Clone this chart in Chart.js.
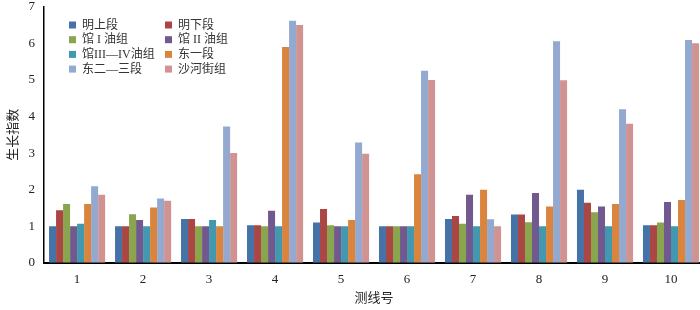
<!DOCTYPE html>
<html>
<head>
<meta charset="utf-8">
<script src="https://cdn.jsdelivr.net/npm/chart.js@4"></script>
<style>
  html, body { margin: 0; padding: 0; overflow: hidden; background: #fff; }
  #wrap { width: 706px; height: 312px; margin-top: -6px; }
</style>
</head>
<body>
<div id="wrap"><canvas id="growthChart" width="706" height="312"></canvas></div>
<script>
// 测线号
var categories = ["1", "2", "3", "4", "5", "6", "7", "8", "9", "10"];
var yTicks = [0, 1, 2, 3, 4, 5, 6, 7];

var mingShang  = [1.00, 1.00, 1.20, 1.03, 1.10, 1.00, 1.20, 1.32, 2.00, 1.03];
var mingXia    = [1.44, 1.00, 1.20, 1.03, 1.47, 1.00, 1.28, 1.32, 1.64, 1.03];
var guan1      = [1.61, 1.33, 1.00, 1.00, 1.03, 1.00, 1.07, 1.11, 1.38, 1.10];
var guan2      = [1.00, 1.17, 1.00, 1.42, 1.00, 1.00, 1.86, 1.91, 1.54, 1.66];
var guan34     = [1.07, 1.00, 1.17, 1.00, 1.00, 1.00, 1.00, 1.00, 1.00, 1.00];
var dong1      = [1.61, 1.51, 1.00, 5.90, 1.17, 2.42, 2.00, 1.54, 1.61, 1.72];
var dong23     = [2.09, 1.76, 3.73, 6.62, 3.29, 5.25, 1.19, 6.06, 4.20, 6.09];
var shahejie   = [1.86, 1.70, 3.00, 6.50, 2.98, 5.00, 1.00, 4.99, 3.80, 6.00];

var serif = '"Liberation Serif", "Noto Sans CJK SC", serif';

// legend drawn inside the plot, two columns (canvas is shifted up 6px)
var innerLegend = {
    id: "innerLegend",
    afterDraw: function (chart) {
        var ctx = chart.ctx;
        var sets = chart.data.datasets;
        ctx.save();
        ctx.font = "12px " + serif;
        ctx.textBaseline = "middle";
        for (var i = 0; i < sets.length; i++) {
            var col = i % 2, row = Math.floor(i / 2);
            var x = col === 0 ? 69 : 165;
            var y = 31 + row * 14.7;
            ctx.fillStyle = sets[i].backgroundColor;
            ctx.fillRect(x, y - 3.5, 7, 7);
            ctx.fillStyle = "#333";
            ctx.fillText(sets[i].label, x + 13, y + 0.5);
        }
        ctx.restore();
    }
};

function series(label, data, color) {
    return { label: label, data: data, backgroundColor: color, borderWidth: 0 };
}

var config = {
    type: "bar",
    data: {
        labels: categories,
        datasets: [
            series("明上段", mingShang, "#4572a7"),
            series("明下段", mingXia, "#aa4643"),
            series("馆 I 油组", guan1, "#89a54e"),
            series("馆 II 油组", guan2, "#71588f"),
            series("馆III—IV油组", guan34, "#4198af"),
            series("东一段", dong1, "#db843d"),
            series("东二—三段", dong23, "#93a9cf"),
            series("沙河街组", shahejie, "#d19392")
        ]
    },
    options: {
        responsive: false,
        animation: false,
        layout: { padding: { top: 0, right: 2, left: 2, bottom: 0 } },
        datasets: { bar: { categoryPercentage: 0.85, barPercentage: 1.0 } },
        plugins: {
            legend: { display: false },
            tooltip: { enabled: false }
        },
        scales: {
            x: {
                grid: { display: false, drawTicks: false },
                border: { color: "#000", width: 2 },
                ticks: { color: "#222", font: { family: serif, size: 13 }, padding: 9, maxRotation: 0 },
                title: { display: true, text: "测线号", color: "#222", font: { family: serif, size: 13 }, padding: { top: -6, bottom: 0 } }
            },
            y: {
                min: 0,
                max: 7,
                afterBuildTicks: function (axis) {
                    axis.ticks = yTicks.map(function (v) { return { value: v }; });
                },
                grid: { display: false, drawOnChartArea: false, drawTicks: true, tickLength: 4, color: "#000" },
                border: { color: "#000", width: 1.5 },
                ticks: { color: "#222", font: { family: serif, size: 13 }, padding: 5 },
                title: { display: true, text: "生长指数", color: "#222", font: { family: serif, size: 13 }, padding: { top: 4, bottom: 2 } }
            }
        }
    },
    plugins: [innerLegend]
};

var growthChart = new Chart(document.getElementById("growthChart"), config);
</script>
</body>
</html>
